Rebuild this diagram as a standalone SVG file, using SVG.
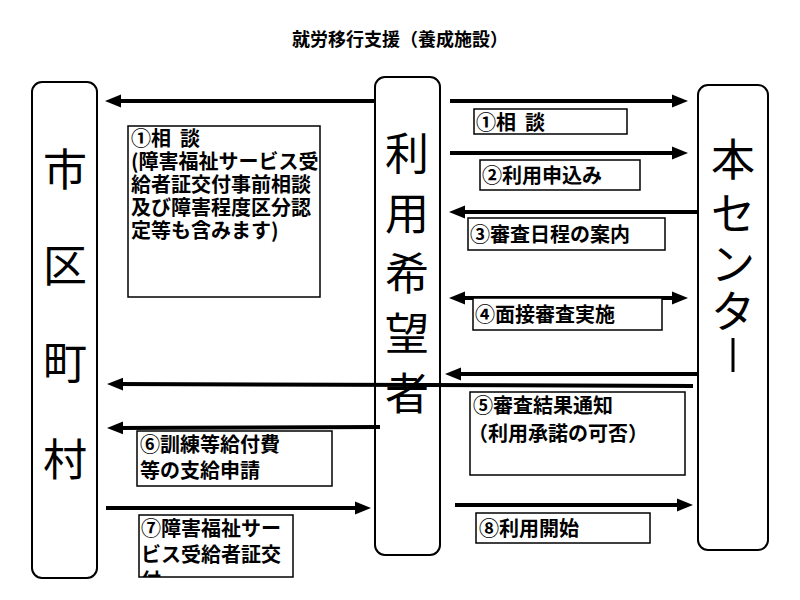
<svg xmlns="http://www.w3.org/2000/svg" width="800" height="600" viewBox="0 0 800 600">
<defs>
<marker id="ah" markerWidth="4" markerHeight="4" refX="2" refY="2" orient="auto-start-reverse" markerUnits="strokeWidth"><path d="M0,0.4 L4,2 L0,3.6 Z" fill="#000"/></marker>
<clipPath id="c7"><rect x="139" y="515" width="160" height="62"/></clipPath>
</defs>
<style>
text{font-family:"Noto Sans CJK JP","Liberation Sans",sans-serif;fill:#000}
.col{fill:#fff;stroke:#000;stroke-width:2}
.box{fill:#fff;stroke:#000;stroke-width:1.5}
.lb{font-size:20px;font-weight:bold}
.big{font-size:44px;text-anchor:middle}
.ar{stroke:#000;stroke-width:4;fill:none;marker-end:url(#ah)}
</style>
<rect width="800" height="600" fill="#fff"/>
<text x="400" y="46" text-anchor="middle" style="font-size:18px;font-weight:bold">就労移行支援（養成施設）</text>
<g id="shichoson"><rect class="col" x="32" y="82" width="65" height="496" rx="10"/>
<text class="big" x="65" y="186">市</text><text class="big" x="65" y="282">区</text><text class="big" x="65" y="379">町</text><text class="big" x="65" y="476">村</text></g>
<g id="riyosha"><rect class="col" x="375" y="77" width="65" height="478" rx="10"/>
<text class="big" x="407" y="170">利</text><text class="big" x="407" y="230">用</text><text class="big" x="407" y="290">希</text><text class="big" x="407" y="350">望</text><text class="big" x="407" y="410">者</text></g>
<g id="center"><rect class="col" x="698" y="85" width="70" height="465" rx="10"/>
<text class="big" x="733" y="176">本</text><text class="big" x="733" y="230">セ</text><text class="big" x="733" y="280">ン</text><text class="big" x="733" y="328">タ</text>
<line x1="733" y1="338" x2="733" y2="372" stroke="#000" stroke-width="3"/></g>
<g id="connectors">
<line class="ar" x1="375" y1="101" x2="113" y2="101"/>
<line class="ar" x1="450" y1="101" x2="680" y2="101"/>
<line class="ar" x1="450" y1="153" x2="680" y2="153"/>
<line class="ar" x1="697" y1="212" x2="457" y2="212"/>
<line class="ar" x1="457" y1="298" x2="680" y2="298" style="marker-start:url(#ah)"/>
<line class="ar" x1="698" y1="374" x2="453" y2="374"/>
<line class="ar" x1="693" y1="386" x2="115" y2="384"/>
<line class="ar" x1="380" y1="427" x2="115" y2="428"/>
<line class="ar" x1="106" y1="508" x2="363" y2="508"/>
<line class="ar" x1="455" y1="505" x2="685" y2="505"/>
</g>
<g id="lbl1"><rect class="box" x="128" y="126" width="192" height="171"/>
<text class="lb" x="131" y="146" xml:space="preserve">①相  談</text>
<text class="lb" x="131" y="169">(障害福祉サービス受</text>
<text class="lb" x="131" y="192">給者証交付事前相談</text>
<text class="lb" x="131" y="215">及び障害程度区分認</text>
<text class="lb" x="131" y="238">定等も含みます)</text></g>
<g id="lblc1"><rect class="box" x="474" y="109" width="153" height="25"/><text class="lb" x="476" y="130" xml:space="preserve">①相  談</text></g>
<g id="lbl2"><rect class="box" x="480" y="160" width="160" height="30"/><text class="lb" x="482" y="183">②利用申込み</text></g>
<g id="lbl3"><rect class="box" x="468" y="218" width="197" height="32"/><text class="lb" x="470" y="242">③審査日程の案内</text></g>
<g id="lbl4"><rect class="box" x="473" y="298" width="189" height="32"/><text class="lb" x="475" y="322">④面接審査実施</text></g>
<g id="lbl5"><rect class="box" x="470" y="392" width="215" height="83"/><text class="lb" x="473" y="413">⑤審査結果通知</text><text class="lb" x="468" y="441">（利用承諾の可否）</text></g>
<g id="lbl6"><rect class="box" x="137" y="431" width="195" height="55"/><text class="lb" x="140" y="452">⑥訓練等給付費</text><text class="lb" x="140" y="478">等の支給申請</text></g>
<g id="lbl7"><rect class="box" x="139" y="515" width="154" height="62"/><g clip-path="url(#c7)"><text class="lb" x="141" y="536">⑦障害福祉サー</text><text class="lb" x="141" y="562">ビス受給者証交</text><text class="lb" x="141" y="588">付</text></g></g>
<g id="lbl8"><rect class="box" x="476" y="513" width="174" height="30"/><text class="lb" x="479" y="536">⑧利用開始</text></g>
</svg>
